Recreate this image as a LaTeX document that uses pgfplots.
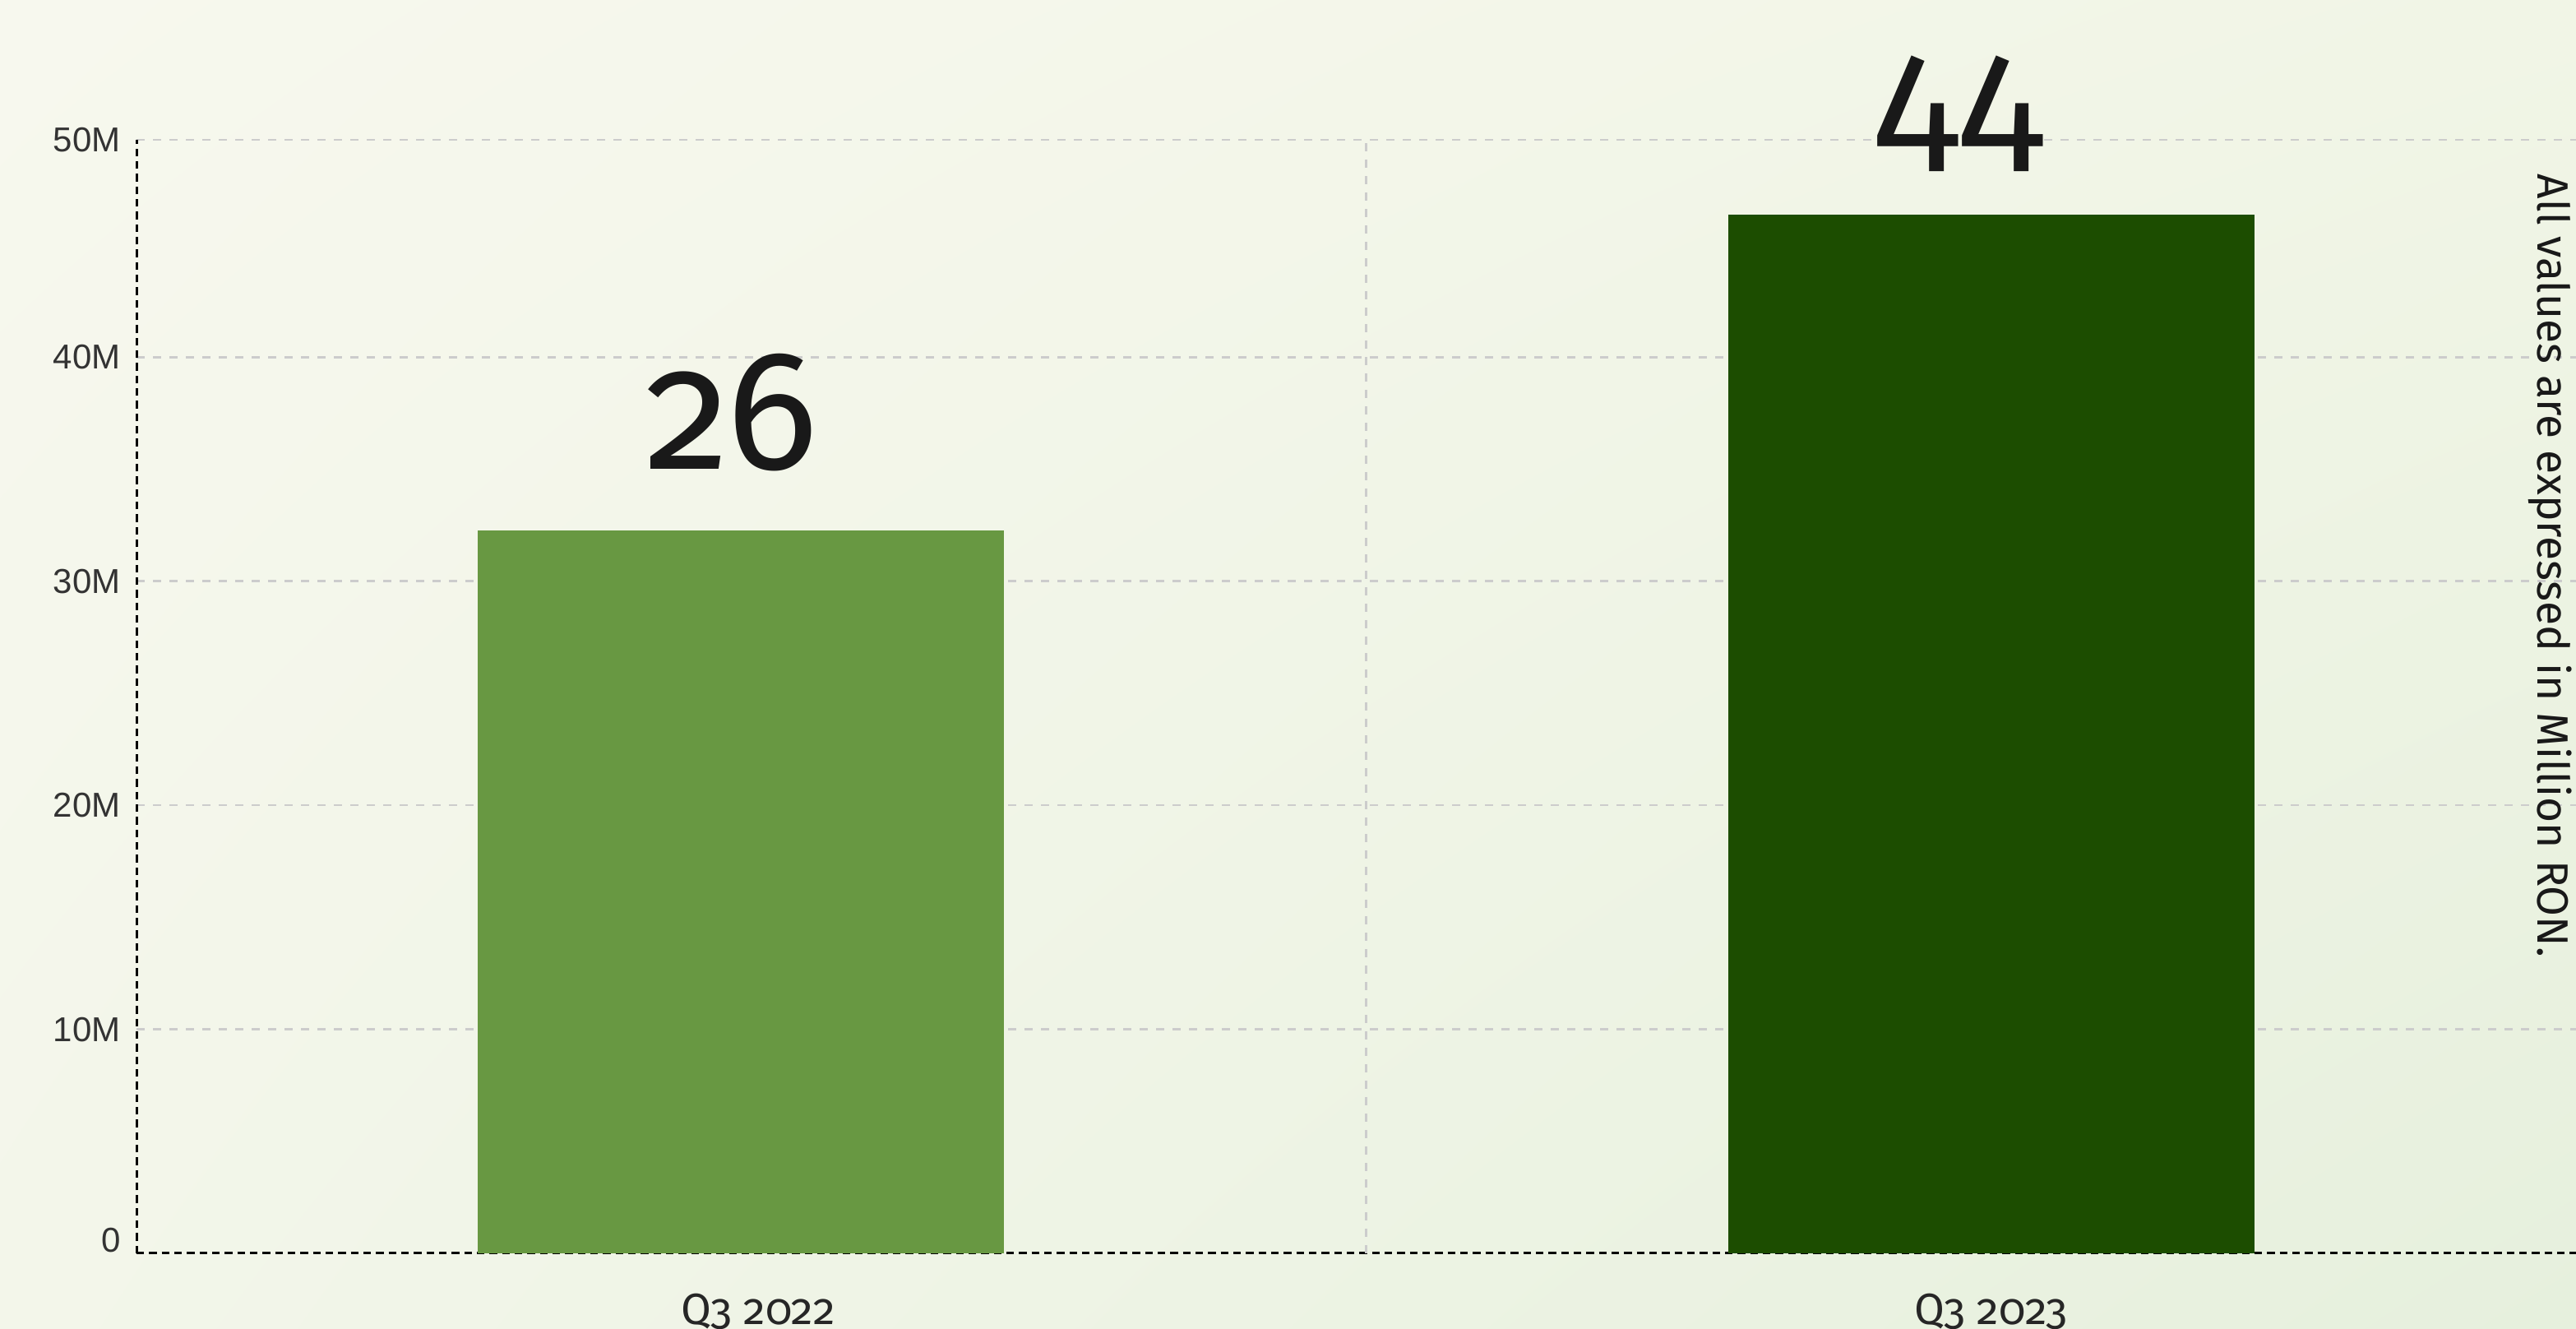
\documentclass[border=0pt]{standalone}
\usepackage{pgfplots}
\pgfplotsset{compat=1.18}
\usepackage{fontspec}
\setmainfont[Numbers=OldStyle]{Fira Sans}
\newfontfamily\tickfont{Liberation Sans}
\newfontfamily\catfont[Numbers=OldStyle]{Fira Sans}
\usetikzlibrary{backgrounds,shadings}
\definecolor{lightbar}{HTML}{689842}
\definecolor{darkbar}{HTML}{1C4D00}
\definecolor{gridc}{HTML}{CCCCCC}
\definecolor{tickc}{HTML}{333333}
\definecolor{bgUL}{HTML}{F7F8EE}
\definecolor{bgUR}{HTML}{F1F5E6}
\definecolor{bgLL}{HTML}{F3F6EA}
\definecolor{bgLR}{HTML}{E6F0DD}
\begin{document}
\begin{tikzpicture}
\begin{axis}[
  at={(0,0)}, anchor=south west,
  scale only axis, width=445.05pt, height=203.1pt,
  xmin=-0.4836, xmax=1.468, ymin=0, ymax=49.7,
  axis x line=bottom, axis y line=left,
  axis line style={black, line width=0.45pt, dash pattern=on 1.4pt off 0.9pt, -},
  xtick={0,1}, xticklabels={\hspace{6.3pt}Q3 2022, Q3 2023\hspace{1.5pt}},
  extra x ticks={0.5}, extra x tick labels={},
  extra x tick style={grid=major},
  ytick={10,20,30,40,49.7}, yticklabels={10M,20M,30M,40M,50M},
  extra y ticks={0}, extra y tick labels={0},
  extra y tick style={grid=none, yticklabel style={yshift=2.4pt}},
  ymajorgrids,
  major grid style={gridc, line width=0.4pt, dash pattern=on 1.5pt off 1.5pt},
  major tick length=0pt,
  tick style={draw=none},
  yticklabel style={font=\tickfont\fontsize{6.3}{7}\selectfont, text=tickc, anchor=east, inner sep=0pt, xshift=-2.7pt},
  xticklabel style={font=\catfont\fontsize{8}{9}\selectfont, text=black!85, anchor=north, inner sep=0pt, yshift=-7.2pt},
  ybar, bar width=0.421, bar shift=0pt,
  clip=false,
]
\addplot[fill=lightbar, draw=none] coordinates {(0,32.27)};
\addplot[fill=darkbar, draw=none] coordinates {(1,46.37)};
\node[anchor=base, font=\fontsize{31}{36}\selectfont, text=black!90, inner sep=0pt] at (axis cs:-0.007,35.0) {26};
\node[anchor=base, font=\fontsize{31}{36}\selectfont, text=black!90, inner sep=0pt] at (axis cs:0.974,49.1) {44};
\node[anchor=west, rotate=-90, font=\fontsize{8}{10}\selectfont, text=black!90, inner sep=0pt] at (rel axis cs:0.9895,0.970) {All values are expressed in Million RON.};
\end{axis}
\pgfresetboundingbox
\begin{pgfonlayer}{background}
\shade[upper left=bgUL, upper right=bgUR, lower left=bgLL, lower right=bgLR] (-24.9pt,-13.8pt) rectangle (445.05pt,228.6pt);
\end{pgfonlayer}
\useasboundingbox (-24.9pt,-13.8pt) rectangle (445.05pt,228.6pt);
\end{tikzpicture}
\end{document}
